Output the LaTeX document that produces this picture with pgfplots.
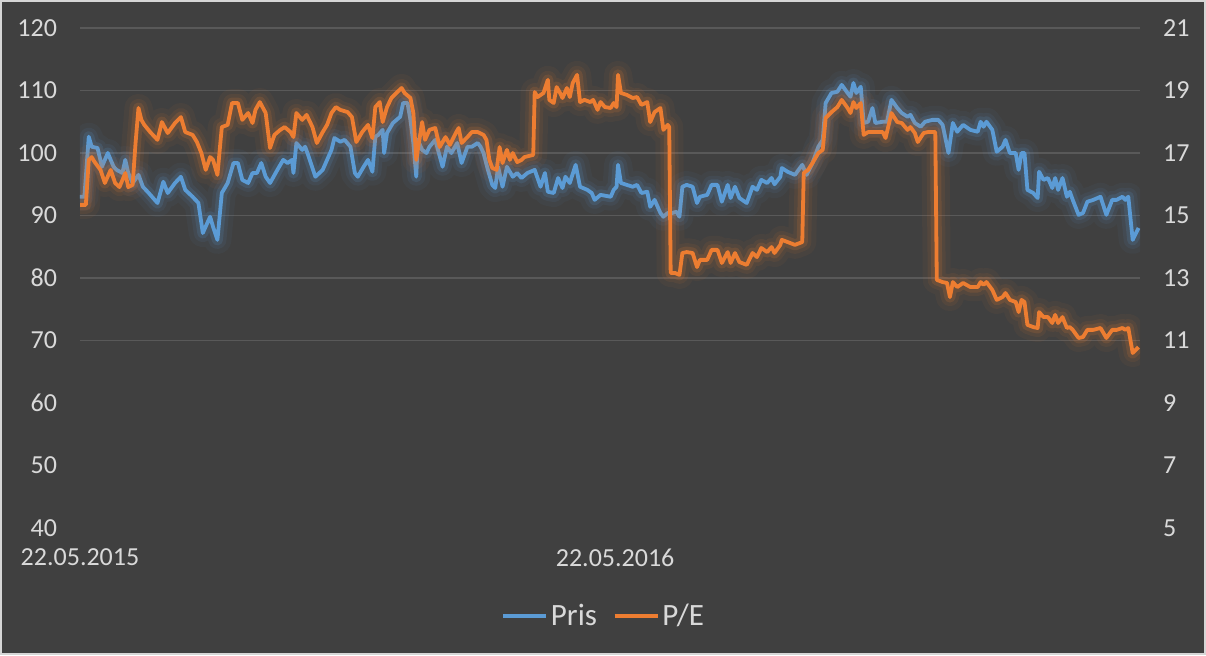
\documentclass[border=0pt]{standalone}
\usepackage{fontspec}
\setmainfont{Carlito}
\usepackage{pgfplots}
\usepackage{pgfplotstable}
\pgfplotsset{compat=1.18}
\usetikzlibrary{backgrounds,calc}

\definecolor{bgdark}{RGB}{64,64,64}
\definecolor{gridc}{RGB}{89,89,89}
\definecolor{txt}{RGB}{217,217,217}
\definecolor{frame}{RGB}{214,214,214}
\definecolor{pris}{RGB}{91,155,213}
\definecolor{pe}{RGB}{237,125,49}

% day = days after 22.05.2015
\pgfplotstableread{
day pris
0 93.0
3 93.0
6 102.6
8 101.0
12 100.8
15 97.8
19 100.0
23 97.8
25 97.3
29 96.8
31 98.9
33 96.8
36 95.2
40 96.5
43 94.6
47 93.6
53 92.0
57 95.4
60 93.6
65 95.2
69 96.2
72 94.1
77 93.0
81 92.0
84 87.2
89 89.8
91 88.2
94 86.1
97 93.6
101 95.2
105 98.4
108 98.4
111 95.7
115 95.2
118 96.8
121 96.8
124 98.4
127 96.2
130 95.2
135 97.3
139 98.9
142 98.4
145 98.9
146 96.8
148 101.6
152 100.5
154 101.0
156 99.7
161 96.2
166 97.3
169 98.9
172 100.5
174 102.4
178 101.8
181 102.1
185 101.0
188 96.8
190 96.2
194 97.8
197 98.9
200 97.0
202 102.6
204 102.9
207 103.7
208 100.0
210 103.2
214 104.8
219 105.8
221 108.0
224 108.0
226 105.3
228 101.6
230 96.2
231 102.1
234 100.5
237 100.0
239 101.0
243 102.1
248 97.8
251 101.0
254 100.0
258 101.6
261 98.4
265 101.0
268 101.0
272 101.6
274 101.0
276 100.0
279 97.3
282 94.9
284 94.4
286 97.8
289 94.6
292 97.8
296 96.2
299 96.8
302 96.0
306 96.8
311 97.3
315 94.6
318 96.8
320 93.8
324 93.6
327 96.0
330 94.4
332 96.2
335 95.2
339 98.1
342 94.6
347 94.1
350 93.6
352 92.5
356 93.3
363 93.0
365 94.1
367 94.6
368 98.1
370 95.2
374 94.9
378 94.6
381 94.9
384 93.6
388 93.8
390 91.4
393 92.5
397 90.4
399 89.8
402 90.4
405 90.4
408 90.6
410 89.8
412 94.6
415 94.9
419 94.6
422 92.0
424 93.0
429 93.3
432 94.9
436 94.9
439 92.2
443 94.9
445 92.8
448 94.6
451 92.8
456 92.0
460 94.6
463 94.1
466 95.7
470 95.2
473 96.0
475 95.0
479 96.2
480 97.6
484 97.0
489 96.5
494 98.1
497 96.5
501 98.4
505 101.0
508 102.1
510 108.0
514 109.6
518 109.8
521 110.9
525 109.6
527 109.0
529 111.2
531 109.6
534 110.6
536 104.8
539 105.0
542 107.2
544 104.8
549 105.0
552 105.0
555 108.5
559 107.2
562 106.4
566 105.8
568 106.1
571 104.8
575 104.2
578 105.0
583 105.3
587 105.3
590 104.5
594 100.0
597 104.8
600 103.4
604 104.5
609 103.7
614 103.4
616 105.0
618 104.2
620 105.0
624 103.7
627 100.2
631 101.0
633 102.1
636 100.0
640 100.0
642 97.3
644 100.0
646 100.0
648 94.1
652 93.6
655 92.8
656 97.0
659 95.7
662 96.0
665 94.4
667 96.0
669 94.1
672 96.0
675 93.0
677 93.8
679 92.5
683 90.1
686 90.4
689 92.2
693 92.5
698 93.0
702 90.1
706 92.5
709 92.5
713 93.0
715 92.5
717 93.0
720 86.1
724 88.0
}\prisdata

\pgfplotstableread{
day pe
0 15.34
4 15.34
6 16.78
8 16.87
10 16.71
14 16.46
17 16.04
21 16.46
24 16.04
27 15.91
31 16.36
33 15.91
36 15.98
38 17.32
40 18.44
42 18.06
44 17.90
48 17.67
53 17.42
56 17.99
60 17.64
65 17.96
69 18.15
72 17.67
77 17.58
80 17.35
83 17.00
86 16.46
89 16.87
91 16.78
94 16.30
97 17.83
101 17.90
104 18.60
108 18.60
111 18.06
115 18.28
118 17.96
120 18.38
123 18.63
127 18.28
130 17.16
133 17.58
137 17.74
140 17.83
144 17.67
146 17.51
148 18.28
152 18.06
155 18.22
159 17.83
162 17.32
166 17.67
169 17.90
172 18.28
175 18.47
178 18.38
183 18.31
186 18.15
189 17.35
193 17.67
197 17.90
200 17.48
202 18.47
205 18.63
207 17.99
210 18.47
213 18.76
217 18.95
220 19.08
222 18.92
226 18.76
228 18.28
230 16.78
234 17.99
236 17.42
239 17.74
243 17.80
246 17.19
250 17.51
253 17.26
257 17.64
259 17.80
261 17.32
265 17.51
268 17.67
272 17.67
276 17.58
278 17.42
280 16.78
282 16.52
285 16.46
287 17.19
289 16.68
292 17.10
294 16.78
296 17.00
299 16.71
302 16.78
304 16.87
310 16.94
311 18.95
313 18.79
317 18.92
320 19.34
321 18.70
324 18.60
326 19.11
328 18.95
330 18.76
333 19.08
335 18.79
337 19.24
340 19.50
342 18.63
345 18.70
349 18.63
351 18.70
354 18.38
356 18.63
359 18.47
363 18.44
365 18.60
367 18.47
368 19.50
370 18.92
374 18.86
378 18.76
381 18.79
384 18.54
388 18.63
390 17.99
393 18.31
397 18.44
399 17.74
402 17.90
403 17.83
404 13.16
407 13.16
410 13.10
412 13.80
415 13.83
419 13.80
422 13.35
424 13.58
429 13.58
432 13.90
436 13.90
439 13.48
443 13.83
445 13.48
448 13.80
451 13.51
456 13.42
460 13.80
463 13.67
466 13.96
470 13.83
473 13.99
475 13.80
479 14.06
480 14.22
484 14.15
489 14.06
494 14.15
495 16.36
498 16.46
501 16.68
505 17.00
508 17.10
510 18.12
514 18.31
518 18.47
521 18.70
525 18.44
527 18.28
529 18.63
531 18.44
534 18.60
536 17.58
539 17.67
544 17.67
549 17.67
551 17.48
555 18.28
559 17.99
562 17.96
566 17.74
568 17.83
571 17.64
573 17.35
577 17.64
580 17.67
585 17.67
586 12.94
590 12.87
593 12.84
595 12.39
597 12.87
600 12.71
604 12.84
609 12.71
614 12.71
616 12.87
618 12.78
620 12.87
624 12.62
627 12.30
631 12.39
633 12.52
636 12.30
640 12.23
642 11.91
644 12.30
646 12.23
648 11.50
652 11.43
655 11.40
656 11.91
659 11.75
662 11.75
665 11.56
667 11.82
669 11.56
672 11.75
675 11.40
677 11.43
679 11.34
683 11.08
686 11.11
689 11.34
693 11.34
698 11.40
702 11.08
706 11.34
709 11.34
713 11.40
715 11.34
717 11.40
720 10.60
724 10.79
}\pedata

\pgfplotsset{
  base/.style={
    width=530pt, height=250pt, scale only axis,
    xmin=0, xmax=725,
    axis line style={draw=none},
    major tick length=0pt,
    tick label style={font=\fontsize{13}{13}\selectfont, text=txt},
    /pgf/number format/assume math mode=true,
  },
  glowO/.style={line width=14pt, opacity=0.05, line join=round, forget plot},
  glowA/.style={line width=9pt, opacity=0.08, line join=round, forget plot},
  glowB/.style={line width=5.5pt, opacity=0.15, line join=round, forget plot},
  mainline/.style={line width=1.9pt, line join=round},
}

\begin{document}
\begin{tikzpicture}
\begin{axis}[base,
  ymin=40, ymax=120, ytick={40,50,...,120},
  extra y ticks={70,80,...,120}, extra y tick labels={},
  extra y tick style={grid=major, major grid style={gridc, line width=0.8pt}},
  xtick={0,366}, xticklabels={22.05.2015,22.05.2016},
  xticklabel style={yshift=-7pt},
  yticklabel style={xshift=-8pt},
]
\coordinate (O) at (rel axis cs:0,0);
\addplot[pris, glowO] table[x=day, y=pris] {\prisdata};
\addplot[pris, glowA] table[x=day, y=pris] {\prisdata};
\addplot[pris, glowB] table[x=day, y=pris] {\prisdata};
\addplot[pris, mainline] table[x=day, y=pris] {\prisdata};
\end{axis}
\begin{axis}[base,
  axis x line=none, axis y line*=right,
  ymin=5, ymax=21, ytick={5,7,...,21},
  yticklabel style={xshift=8pt},
  legend style={at={(0.495,-0.176)}, anchor=center, draw=none, fill=none,
    legend columns=2, font=\fontsize{15.5}{15.5}\selectfont, text=txt,
    /tikz/every odd column/.append style={column sep=-0.5pt},
    /tikz/every even column/.append style={column sep=6pt}},
  legend image code/.code={\draw[#1, line width=1.7pt] (0pt,0pt) -- (21.5pt,0pt);},
]
\addlegendimage{pris}
\addlegendentry{Pris}
\addplot[pe, glowO] table[x=day, y=pe] {\pedata};
\addplot[pe, glowA] table[x=day, y=pe] {\pedata};
\addplot[pe, glowB] table[x=day, y=pe] {\pedata};
\addplot[pe, mainline] table[x=day, y=pe] {\pedata};
\addlegendentry{P/E}
\end{axis}
\begin{scope}[on background layer]
\fill[bgdark] ($(O)+(-40pt,-63.5pt)$) rectangle ($(O)+(563pt,264pt)$);
\end{scope}
\draw[frame, line width=1pt] ($(O)+(-39.5pt,-63pt)$) rectangle ($(O)+(562.5pt,263.5pt)$);
\pgfresetboundingbox
\path ($(O)+(-40pt,-63.5pt)$) rectangle ($(O)+(563pt,264pt)$);
\end{tikzpicture}
\end{document}
